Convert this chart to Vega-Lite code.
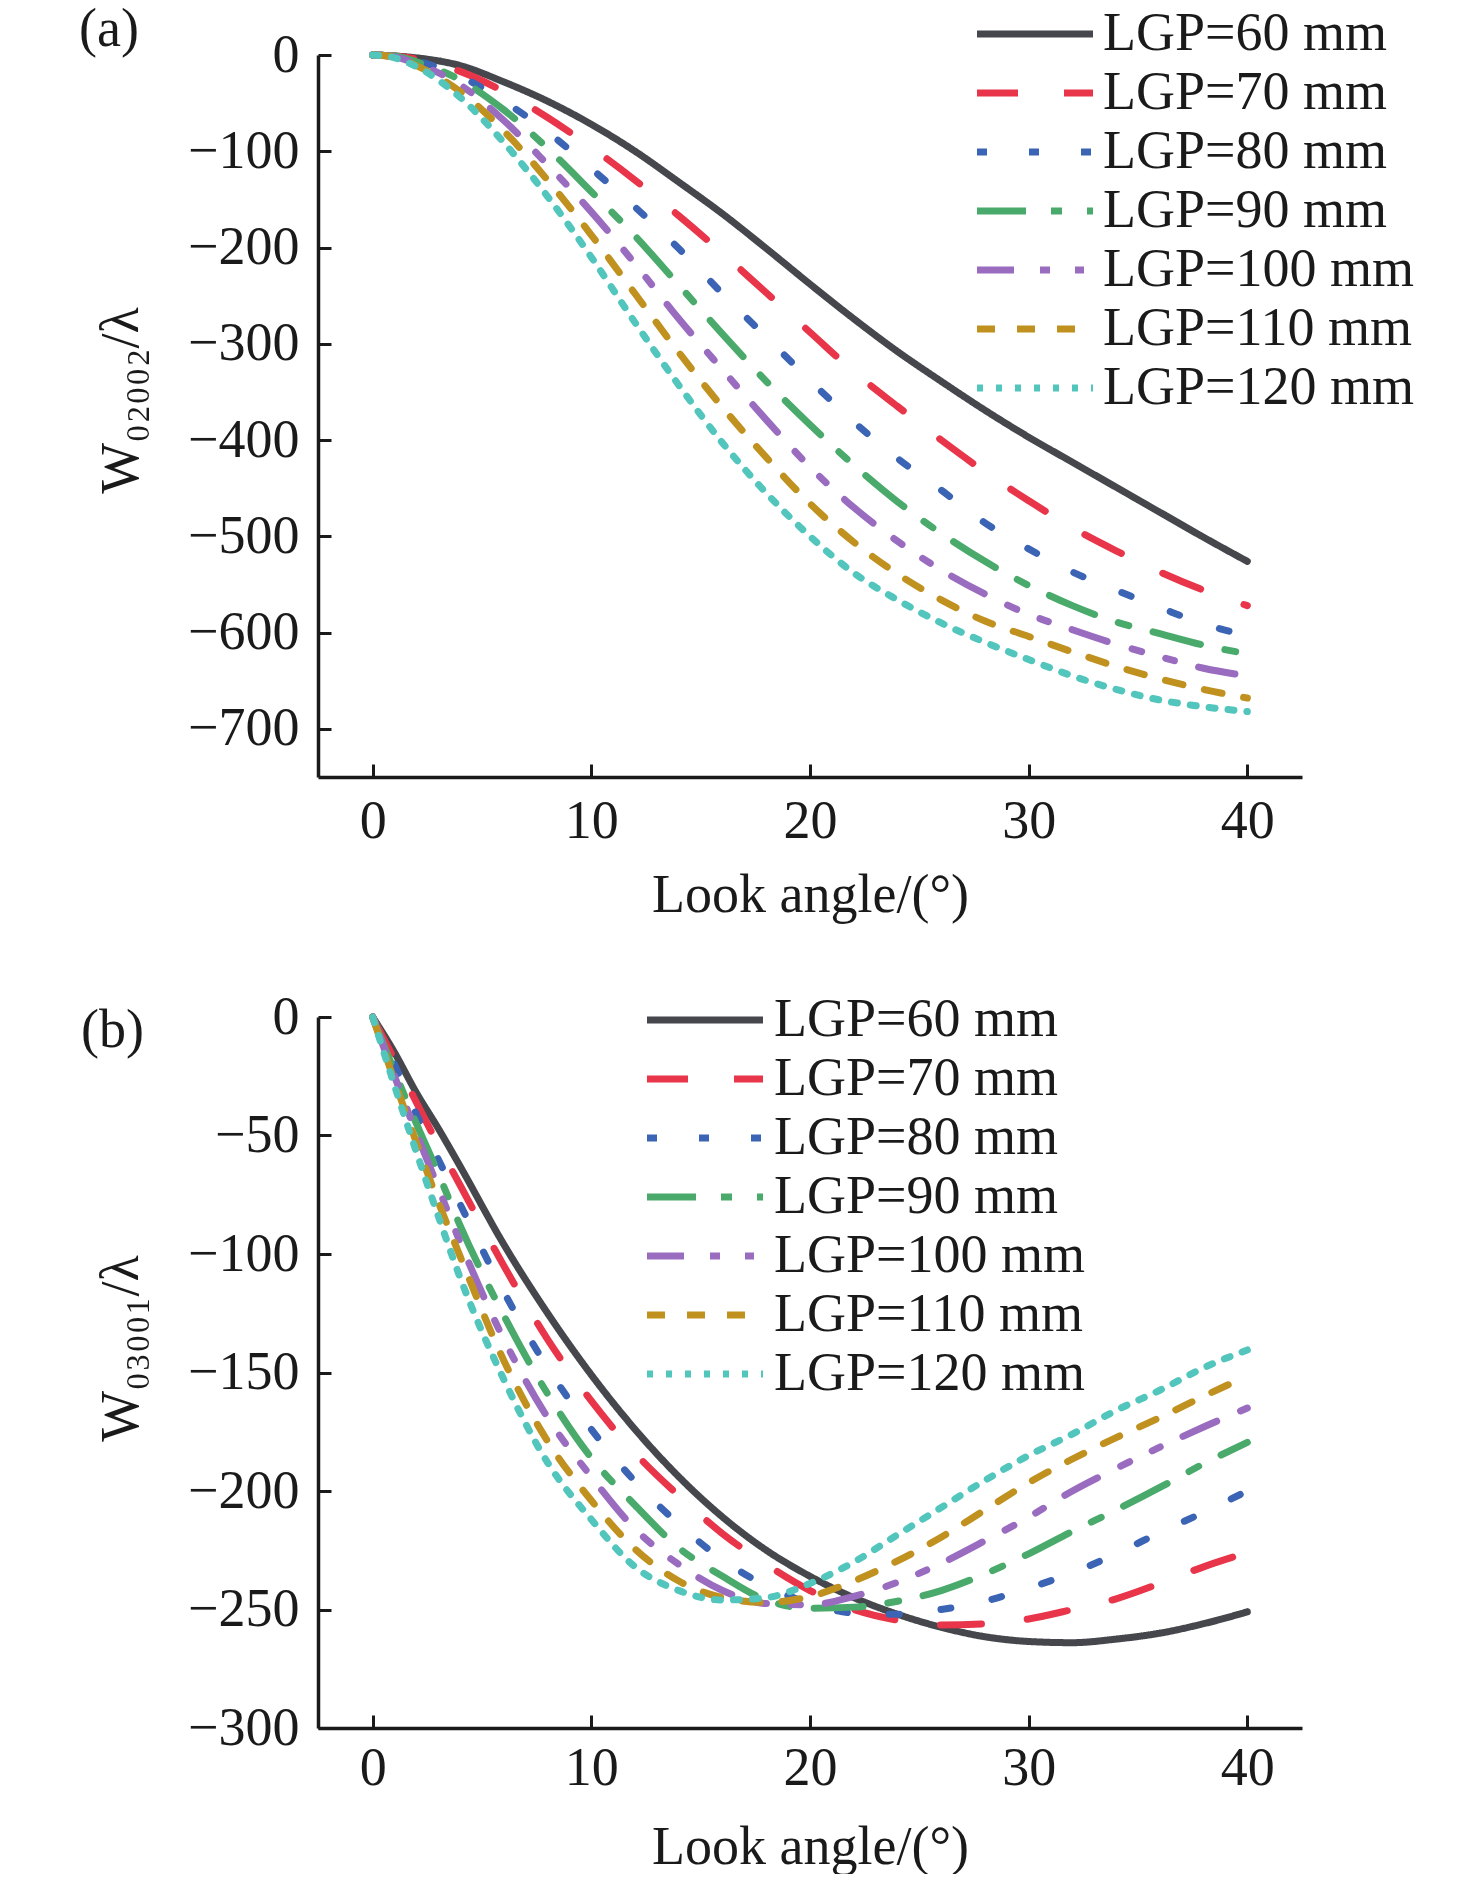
{
  "$schema": "https://vega.github.io/schema/vega-lite/v6.json",
  "background": "white",
  "padding": {"left": 79, "top": 3, "right": 0, "bottom": 0},
  "spacing": 240,
  "bounds": "flush",
  "config": {
    "view": {"stroke": null},
    "font": "Liberation Serif",
    "axis": {
      "labelFont": "Liberation Serif",
      "labelFontSize": 54,
      "labelColor": "#1a1a1a",
      "titleFont": "Liberation Serif",
      "titleFontSize": 54,
      "titleFontWeight": "normal",
      "titleColor": "#1a1a1a",
      "domainColor": "#1a1a1a",
      "domainWidth": 3.5,
      "tickColor": "#1a1a1a",
      "tickWidth": 3,
      "tickSize": -13,
      "grid": false,
      "labelOverlap": false,
      "labelFlush": false
    },
    "legend": {
      "title": null,
      "orient": "none",
      "labelFont": "Liberation Serif",
      "labelFontSize": 54,
      "labelColor": "#1a1a1a",
      "labelLimit": 0,
      "symbolType": "M-4,0H4",
      "symbolSize": 841,
      "symbolOffset": 31,
      "symbolStrokeWidth": 7,
      "rowPadding": 5,
      "padding": 0
    },
    "title": {"font": "Liberation Serif", "fontSize": 54, "fontWeight": "normal", "color": "#1a1a1a"}
  },
  "datasets": {
    "a": [
      {"L": "LGP=60 mm", "angle": 0, "W": 0}, {"L": "LGP=60 mm", "angle": 1, "W": -1}, {"L": "LGP=60 mm", "angle": 2, "W": -3}, {"L": "LGP=60 mm", "angle": 4, "W": -11}, {"L": "LGP=60 mm", "angle": 6, "W": -28}, {"L": "LGP=60 mm", "angle": 8, "W": -48}, {"L": "LGP=60 mm", "angle": 10, "W": -72}, {"L": "LGP=60 mm", "angle": 12, "W": -100}, {"L": "LGP=60 mm", "angle": 14, "W": -132}, {"L": "LGP=60 mm", "angle": 16, "W": -165}, {"L": "LGP=60 mm", "angle": 18, "W": -201}, {"L": "LGP=60 mm", "angle": 20, "W": -238}, {"L": "LGP=60 mm", "angle": 22, "W": -274}, {"L": "LGP=60 mm", "angle": 24, "W": -308}, {"L": "LGP=60 mm", "angle": 26, "W": -339}, {"L": "LGP=60 mm", "angle": 28, "W": -369}, {"L": "LGP=60 mm", "angle": 30, "W": -397}, {"L": "LGP=60 mm", "angle": 32, "W": -423}, {"L": "LGP=60 mm", "angle": 34, "W": -449}, {"L": "LGP=60 mm", "angle": 36, "W": -475}, {"L": "LGP=60 mm", "angle": 38, "W": -501}, {"L": "LGP=60 mm", "angle": 40, "W": -526},
      {"L": "LGP=70 mm", "angle": 0, "W": 0}, {"L": "LGP=70 mm", "angle": 1, "W": -1}, {"L": "LGP=70 mm", "angle": 2, "W": -4}, {"L": "LGP=70 mm", "angle": 4, "W": -17}, {"L": "LGP=70 mm", "angle": 6, "W": -38}, {"L": "LGP=70 mm", "angle": 8, "W": -65}, {"L": "LGP=70 mm", "angle": 10, "W": -96}, {"L": "LGP=70 mm", "angle": 12, "W": -130}, {"L": "LGP=70 mm", "angle": 14, "W": -167}, {"L": "LGP=70 mm", "angle": 16, "W": -206}, {"L": "LGP=70 mm", "angle": 18, "W": -247}, {"L": "LGP=70 mm", "angle": 20, "W": -288}, {"L": "LGP=70 mm", "angle": 22, "W": -329}, {"L": "LGP=70 mm", "angle": 24, "W": -365}, {"L": "LGP=70 mm", "angle": 26, "W": -400}, {"L": "LGP=70 mm", "angle": 28, "W": -433}, {"L": "LGP=70 mm", "angle": 30, "W": -463}, {"L": "LGP=70 mm", "angle": 32, "W": -491}, {"L": "LGP=70 mm", "angle": 34, "W": -515}, {"L": "LGP=70 mm", "angle": 36, "W": -537}, {"L": "LGP=70 mm", "angle": 38, "W": -556}, {"L": "LGP=70 mm", "angle": 40, "W": -572},
      {"L": "LGP=80 mm", "angle": 0, "W": 0}, {"L": "LGP=80 mm", "angle": 1, "W": -1}, {"L": "LGP=80 mm", "angle": 2, "W": -6}, {"L": "LGP=80 mm", "angle": 4, "W": -22}, {"L": "LGP=80 mm", "angle": 6, "W": -48}, {"L": "LGP=80 mm", "angle": 8, "W": -80}, {"L": "LGP=80 mm", "angle": 10, "W": -118}, {"L": "LGP=80 mm", "angle": 12, "W": -158}, {"L": "LGP=80 mm", "angle": 14, "W": -201}, {"L": "LGP=80 mm", "angle": 16, "W": -248}, {"L": "LGP=80 mm", "angle": 18, "W": -293}, {"L": "LGP=80 mm", "angle": 20, "W": -338}, {"L": "LGP=80 mm", "angle": 22, "W": -381}, {"L": "LGP=80 mm", "angle": 24, "W": -419}, {"L": "LGP=80 mm", "angle": 26, "W": -452}, {"L": "LGP=80 mm", "angle": 28, "W": -486}, {"L": "LGP=80 mm", "angle": 30, "W": -513}, {"L": "LGP=80 mm", "angle": 32, "W": -537}, {"L": "LGP=80 mm", "angle": 34, "W": -556}, {"L": "LGP=80 mm", "angle": 36, "W": -574}, {"L": "LGP=80 mm", "angle": 38, "W": -591}, {"L": "LGP=80 mm", "angle": 40, "W": -603},
      {"L": "LGP=90 mm", "angle": 0, "W": 0}, {"L": "LGP=90 mm", "angle": 1, "W": -1}, {"L": "LGP=90 mm", "angle": 2, "W": -7}, {"L": "LGP=90 mm", "angle": 4, "W": -26}, {"L": "LGP=90 mm", "angle": 6, "W": -57}, {"L": "LGP=90 mm", "angle": 8, "W": -97}, {"L": "LGP=90 mm", "angle": 10, "W": -142}, {"L": "LGP=90 mm", "angle": 12, "W": -188}, {"L": "LGP=90 mm", "angle": 14, "W": -239}, {"L": "LGP=90 mm", "angle": 16, "W": -290}, {"L": "LGP=90 mm", "angle": 18, "W": -339}, {"L": "LGP=90 mm", "angle": 20, "W": -384}, {"L": "LGP=90 mm", "angle": 22, "W": -426}, {"L": "LGP=90 mm", "angle": 24, "W": -464}, {"L": "LGP=90 mm", "angle": 26, "W": -497}, {"L": "LGP=90 mm", "angle": 28, "W": -526}, {"L": "LGP=90 mm", "angle": 30, "W": -551}, {"L": "LGP=90 mm", "angle": 32, "W": -572}, {"L": "LGP=90 mm", "angle": 34, "W": -589}, {"L": "LGP=90 mm", "angle": 36, "W": -601}, {"L": "LGP=90 mm", "angle": 38, "W": -613}, {"L": "LGP=90 mm", "angle": 40, "W": -622},
      {"L": "LGP=100 mm", "angle": 0, "W": 0}, {"L": "LGP=100 mm", "angle": 1, "W": -2}, {"L": "LGP=100 mm", "angle": 2, "W": -9}, {"L": "LGP=100 mm", "angle": 4, "W": -31}, {"L": "LGP=100 mm", "angle": 6, "W": -68}, {"L": "LGP=100 mm", "angle": 8, "W": -114}, {"L": "LGP=100 mm", "angle": 10, "W": -163}, {"L": "LGP=100 mm", "angle": 12, "W": -217}, {"L": "LGP=100 mm", "angle": 14, "W": -274}, {"L": "LGP=100 mm", "angle": 16, "W": -327}, {"L": "LGP=100 mm", "angle": 18, "W": -379}, {"L": "LGP=100 mm", "angle": 20, "W": -428}, {"L": "LGP=100 mm", "angle": 22, "W": -470}, {"L": "LGP=100 mm", "angle": 24, "W": -505}, {"L": "LGP=100 mm", "angle": 26, "W": -535}, {"L": "LGP=100 mm", "angle": 28, "W": -560}, {"L": "LGP=100 mm", "angle": 30, "W": -581}, {"L": "LGP=100 mm", "angle": 32, "W": -597}, {"L": "LGP=100 mm", "angle": 34, "W": -612}, {"L": "LGP=100 mm", "angle": 36, "W": -625}, {"L": "LGP=100 mm", "angle": 38, "W": -637}, {"L": "LGP=100 mm", "angle": 40, "W": -645},
      {"L": "LGP=110 mm", "angle": 0, "W": 0}, {"L": "LGP=110 mm", "angle": 1, "W": -2}, {"L": "LGP=110 mm", "angle": 2, "W": -11}, {"L": "LGP=110 mm", "angle": 4, "W": -38}, {"L": "LGP=110 mm", "angle": 6, "W": -79}, {"L": "LGP=110 mm", "angle": 8, "W": -130}, {"L": "LGP=110 mm", "angle": 10, "W": -187}, {"L": "LGP=110 mm", "angle": 12, "W": -248}, {"L": "LGP=110 mm", "angle": 14, "W": -309}, {"L": "LGP=110 mm", "angle": 16, "W": -366}, {"L": "LGP=110 mm", "angle": 18, "W": -418}, {"L": "LGP=110 mm", "angle": 20, "W": -466}, {"L": "LGP=110 mm", "angle": 22, "W": -506}, {"L": "LGP=110 mm", "angle": 24, "W": -539}, {"L": "LGP=110 mm", "angle": 26, "W": -566}, {"L": "LGP=110 mm", "angle": 28, "W": -588}, {"L": "LGP=110 mm", "angle": 30, "W": -604}, {"L": "LGP=110 mm", "angle": 32, "W": -620}, {"L": "LGP=110 mm", "angle": 34, "W": -635}, {"L": "LGP=110 mm", "angle": 36, "W": -648}, {"L": "LGP=110 mm", "angle": 38, "W": -659}, {"L": "LGP=110 mm", "angle": 40, "W": -668},
      {"L": "LGP=120 mm", "angle": 0, "W": 0}, {"L": "LGP=120 mm", "angle": 1, "W": -3}, {"L": "LGP=120 mm", "angle": 2, "W": -12}, {"L": "LGP=120 mm", "angle": 4, "W": -44}, {"L": "LGP=120 mm", "angle": 6, "W": -91}, {"L": "LGP=120 mm", "angle": 8, "W": -147}, {"L": "LGP=120 mm", "angle": 10, "W": -210}, {"L": "LGP=120 mm", "angle": 12, "W": -278}, {"L": "LGP=120 mm", "angle": 14, "W": -343}, {"L": "LGP=120 mm", "angle": 16, "W": -403}, {"L": "LGP=120 mm", "angle": 18, "W": -455}, {"L": "LGP=120 mm", "angle": 20, "W": -500}, {"L": "LGP=120 mm", "angle": 22, "W": -538}, {"L": "LGP=120 mm", "angle": 24, "W": -566}, {"L": "LGP=120 mm", "angle": 26, "W": -590}, {"L": "LGP=120 mm", "angle": 28, "W": -610}, {"L": "LGP=120 mm", "angle": 30, "W": -628}, {"L": "LGP=120 mm", "angle": 32, "W": -645}, {"L": "LGP=120 mm", "angle": 34, "W": -659}, {"L": "LGP=120 mm", "angle": 36, "W": -670}, {"L": "LGP=120 mm", "angle": 38, "W": -677}, {"L": "LGP=120 mm", "angle": 40, "W": -682}
    ],
    "b": [
      {"L": "LGP=60 mm", "angle": 0, "W": 0}, {"L": "LGP=60 mm", "angle": 1, "W": -15}, {"L": "LGP=60 mm", "angle": 2, "W": -32}, {"L": "LGP=60 mm", "angle": 3, "W": -47}, {"L": "LGP=60 mm", "angle": 4, "W": -63}, {"L": "LGP=60 mm", "angle": 6, "W": -96}, {"L": "LGP=60 mm", "angle": 8, "W": -125}, {"L": "LGP=60 mm", "angle": 10, "W": -151}, {"L": "LGP=60 mm", "angle": 12, "W": -174}, {"L": "LGP=60 mm", "angle": 14, "W": -194}, {"L": "LGP=60 mm", "angle": 16, "W": -211}, {"L": "LGP=60 mm", "angle": 18, "W": -225}, {"L": "LGP=60 mm", "angle": 20, "W": -236}, {"L": "LGP=60 mm", "angle": 22, "W": -245}, {"L": "LGP=60 mm", "angle": 24, "W": -252}, {"L": "LGP=60 mm", "angle": 26, "W": -257.5}, {"L": "LGP=60 mm", "angle": 28, "W": -261.5}, {"L": "LGP=60 mm", "angle": 30, "W": -263.5}, {"L": "LGP=60 mm", "angle": 32, "W": -264}, {"L": "LGP=60 mm", "angle": 34, "W": -262.5}, {"L": "LGP=60 mm", "angle": 36, "W": -260}, {"L": "LGP=60 mm", "angle": 38, "W": -256}, {"L": "LGP=60 mm", "angle": 40, "W": -251},
      {"L": "LGP=70 mm", "angle": 0, "W": 0}, {"L": "LGP=70 mm", "angle": 1, "W": -18}, {"L": "LGP=70 mm", "angle": 2, "W": -36}, {"L": "LGP=70 mm", "angle": 3, "W": -54}, {"L": "LGP=70 mm", "angle": 4, "W": -71}, {"L": "LGP=70 mm", "angle": 6, "W": -105}, {"L": "LGP=70 mm", "angle": 8, "W": -136}, {"L": "LGP=70 mm", "angle": 10, "W": -162}, {"L": "LGP=70 mm", "angle": 12, "W": -184}, {"L": "LGP=70 mm", "angle": 14, "W": -202}, {"L": "LGP=70 mm", "angle": 16, "W": -218}, {"L": "LGP=70 mm", "angle": 18, "W": -231}, {"L": "LGP=70 mm", "angle": 20, "W": -242}, {"L": "LGP=70 mm", "angle": 22, "W": -250}, {"L": "LGP=70 mm", "angle": 24, "W": -254.5}, {"L": "LGP=70 mm", "angle": 26, "W": -256.5}, {"L": "LGP=70 mm", "angle": 28, "W": -256}, {"L": "LGP=70 mm", "angle": 30, "W": -254}, {"L": "LGP=70 mm", "angle": 32, "W": -250}, {"L": "LGP=70 mm", "angle": 34, "W": -245.5}, {"L": "LGP=70 mm", "angle": 36, "W": -239}, {"L": "LGP=70 mm", "angle": 38, "W": -232}, {"L": "LGP=70 mm", "angle": 40, "W": -226},
      {"L": "LGP=80 mm", "angle": 0, "W": 0}, {"L": "LGP=80 mm", "angle": 1, "W": -20}, {"L": "LGP=80 mm", "angle": 2, "W": -41}, {"L": "LGP=80 mm", "angle": 3, "W": -60}, {"L": "LGP=80 mm", "angle": 4, "W": -79}, {"L": "LGP=80 mm", "angle": 6, "W": -116}, {"L": "LGP=80 mm", "angle": 8, "W": -148}, {"L": "LGP=80 mm", "angle": 10, "W": -174}, {"L": "LGP=80 mm", "angle": 12, "W": -196}, {"L": "LGP=80 mm", "angle": 14, "W": -214}, {"L": "LGP=80 mm", "angle": 16, "W": -229}, {"L": "LGP=80 mm", "angle": 18, "W": -240}, {"L": "LGP=80 mm", "angle": 20, "W": -247.5}, {"L": "LGP=80 mm", "angle": 22, "W": -251.5}, {"L": "LGP=80 mm", "angle": 24, "W": -252}, {"L": "LGP=80 mm", "angle": 26, "W": -250}, {"L": "LGP=80 mm", "angle": 28, "W": -246.5}, {"L": "LGP=80 mm", "angle": 30, "W": -241}, {"L": "LGP=80 mm", "angle": 32, "W": -234.5}, {"L": "LGP=80 mm", "angle": 34, "W": -226.5}, {"L": "LGP=80 mm", "angle": 36, "W": -217.5}, {"L": "LGP=80 mm", "angle": 38, "W": -209}, {"L": "LGP=80 mm", "angle": 40, "W": -200},
      {"L": "LGP=90 mm", "angle": 0, "W": 0}, {"L": "LGP=90 mm", "angle": 1, "W": -23}, {"L": "LGP=90 mm", "angle": 2, "W": -45}, {"L": "LGP=90 mm", "angle": 3, "W": -66}, {"L": "LGP=90 mm", "angle": 4, "W": -88}, {"L": "LGP=90 mm", "angle": 6, "W": -126}, {"L": "LGP=90 mm", "angle": 8, "W": -159}, {"L": "LGP=90 mm", "angle": 10, "W": -186}, {"L": "LGP=90 mm", "angle": 12, "W": -206}, {"L": "LGP=90 mm", "angle": 14, "W": -224}, {"L": "LGP=90 mm", "angle": 16, "W": -236}, {"L": "LGP=90 mm", "angle": 18, "W": -246}, {"L": "LGP=90 mm", "angle": 20, "W": -249.5}, {"L": "LGP=90 mm", "angle": 22, "W": -249}, {"L": "LGP=90 mm", "angle": 24, "W": -246.5}, {"L": "LGP=90 mm", "angle": 26, "W": -242}, {"L": "LGP=90 mm", "angle": 28, "W": -235}, {"L": "LGP=90 mm", "angle": 30, "W": -226.5}, {"L": "LGP=90 mm", "angle": 32, "W": -217}, {"L": "LGP=90 mm", "angle": 34, "W": -208}, {"L": "LGP=90 mm", "angle": 36, "W": -198.5}, {"L": "LGP=90 mm", "angle": 38, "W": -188.5}, {"L": "LGP=90 mm", "angle": 40, "W": -179.5},
      {"L": "LGP=100 mm", "angle": 0, "W": 0}, {"L": "LGP=100 mm", "angle": 1, "W": -25}, {"L": "LGP=100 mm", "angle": 2, "W": -49}, {"L": "LGP=100 mm", "angle": 3, "W": -72}, {"L": "LGP=100 mm", "angle": 4, "W": -95}, {"L": "LGP=100 mm", "angle": 6, "W": -136}, {"L": "LGP=100 mm", "angle": 8, "W": -169}, {"L": "LGP=100 mm", "angle": 10, "W": -194}, {"L": "LGP=100 mm", "angle": 12, "W": -216}, {"L": "LGP=100 mm", "angle": 14, "W": -231}, {"L": "LGP=100 mm", "angle": 16, "W": -242}, {"L": "LGP=100 mm", "angle": 18, "W": -247.5}, {"L": "LGP=100 mm", "angle": 20, "W": -248}, {"L": "LGP=100 mm", "angle": 22, "W": -244.5}, {"L": "LGP=100 mm", "angle": 24, "W": -238.5}, {"L": "LGP=100 mm", "angle": 26, "W": -230.5}, {"L": "LGP=100 mm", "angle": 28, "W": -221}, {"L": "LGP=100 mm", "angle": 30, "W": -211}, {"L": "LGP=100 mm", "angle": 32, "W": -200}, {"L": "LGP=100 mm", "angle": 34, "W": -190.5}, {"L": "LGP=100 mm", "angle": 36, "W": -181.5}, {"L": "LGP=100 mm", "angle": 38, "W": -173}, {"L": "LGP=100 mm", "angle": 40, "W": -165},
      {"L": "LGP=110 mm", "angle": 0, "W": 0}, {"L": "LGP=110 mm", "angle": 1, "W": -27}, {"L": "LGP=110 mm", "angle": 2, "W": -53}, {"L": "LGP=110 mm", "angle": 3, "W": -78}, {"L": "LGP=110 mm", "angle": 4, "W": -101}, {"L": "LGP=110 mm", "angle": 6, "W": -145}, {"L": "LGP=110 mm", "angle": 8, "W": -179}, {"L": "LGP=110 mm", "angle": 10, "W": -204}, {"L": "LGP=110 mm", "angle": 12, "W": -224.5}, {"L": "LGP=110 mm", "angle": 14, "W": -238}, {"L": "LGP=110 mm", "angle": 16, "W": -245}, {"L": "LGP=110 mm", "angle": 18, "W": -247}, {"L": "LGP=110 mm", "angle": 20, "W": -244.5}, {"L": "LGP=110 mm", "angle": 22, "W": -238}, {"L": "LGP=110 mm", "angle": 24, "W": -229.5}, {"L": "LGP=110 mm", "angle": 26, "W": -219.5}, {"L": "LGP=110 mm", "angle": 28, "W": -208}, {"L": "LGP=110 mm", "angle": 30, "W": -196.5}, {"L": "LGP=110 mm", "angle": 32, "W": -186.5}, {"L": "LGP=110 mm", "angle": 34, "W": -177.5}, {"L": "LGP=110 mm", "angle": 36, "W": -169}, {"L": "LGP=110 mm", "angle": 38, "W": -160}, {"L": "LGP=110 mm", "angle": 40, "W": -151.5},
      {"L": "LGP=120 mm", "angle": 0, "W": 0}, {"L": "LGP=120 mm", "angle": 1, "W": -29}, {"L": "LGP=120 mm", "angle": 2, "W": -57}, {"L": "LGP=120 mm", "angle": 3, "W": -84}, {"L": "LGP=120 mm", "angle": 4, "W": -110}, {"L": "LGP=120 mm", "angle": 6, "W": -153}, {"L": "LGP=120 mm", "angle": 8, "W": -188}, {"L": "LGP=120 mm", "angle": 10, "W": -212}, {"L": "LGP=120 mm", "angle": 12, "W": -232}, {"L": "LGP=120 mm", "angle": 14, "W": -242}, {"L": "LGP=120 mm", "angle": 16, "W": -246}, {"L": "LGP=120 mm", "angle": 18, "W": -245}, {"L": "LGP=120 mm", "angle": 20, "W": -239}, {"L": "LGP=120 mm", "angle": 22, "W": -230}, {"L": "LGP=120 mm", "angle": 24, "W": -218.5}, {"L": "LGP=120 mm", "angle": 26, "W": -207}, {"L": "LGP=120 mm", "angle": 28, "W": -195.5}, {"L": "LGP=120 mm", "angle": 30, "W": -185}, {"L": "LGP=120 mm", "angle": 32, "W": -176}, {"L": "LGP=120 mm", "angle": 34, "W": -166}, {"L": "LGP=120 mm", "angle": 36, "W": -157.5}, {"L": "LGP=120 mm", "angle": 38, "W": -148}, {"L": "LGP=120 mm", "angle": 40, "W": -140.5}
    ]
  },
  "resolve": {"scale": {"x": "independent", "y": "independent", "color": "independent", "strokeDash": "independent"}},
  "vconcat": [
    {
      "width": 984,
      "height": 722,
      "title": {"text": "(a)", "anchor": "start", "frame": "group", "orient": "top", "offset": -77, "baseline": "middle", "dx": -239},
      "data": {"name": "a"},
      "mark": {"type": "line", "strokeWidth": 7, "strokeCap": "round", "interpolate": "monotone"},
      "encoding": {
        "x": {
          "field": "angle", "type": "quantitative",
          "scale": {"domain": [-2.5, 42.5], "nice": false, "zero": false},
          "axis": {"values": [0, 10, 20, 30, 40], "title": "Look angle/(°)", "labelPadding": 30, "titleX": 492, "titleY": 134, "titleBaseline": "alphabetic", "titleAlign": "center"}
        },
        "y": {
          "field": "W", "type": "quantitative",
          "scale": {"domain": [-750, 0], "nice": false, "zero": false},
          "axis": {"values": [0, -100, -200, -300, -400, -500, -600, -700], "title": "W₀₂₀₀₂/λ", "labelPadding": 32, "titleX": -197, "titleY": 345, "titleBaseline": "middle", "titleAlign": "center", "titleAngle": 270}
        },
        "color": {
          "field": "L", "type": "nominal",
          "scale": {"domain": ["LGP=60 mm", "LGP=70 mm", "LGP=80 mm", "LGP=90 mm", "LGP=100 mm", "LGP=110 mm", "LGP=120 mm"], "range": ["#45474c", "#e8354a", "#3b64b5", "#49aa6b", "#9a6cc0", "#c0911f", "#52c5bc"]},
          "legend": {"legendX": 659, "legendY": -48, "labelOffset": 41}
        },
        "strokeDash": {
          "field": "L", "type": "nominal",
          "scale": {"domain": ["LGP=60 mm", "LGP=70 mm", "LGP=80 mm", "LGP=90 mm", "LGP=100 mm", "LGP=110 mm", "LGP=120 mm"], "range": [[1, 0], [41, 46], [10, 42], [49, 25, 11, 25], [37, 26, 10, 25, 9, 25], [18, 22], [6, 13]]},
          "legend": {"legendX": 659, "legendY": -48, "labelOffset": 41}
        }
      }
    },
    {
      "width": 984,
      "height": 711,
      "title": {"text": "(b)", "anchor": "start", "frame": "group", "orient": "top", "offset": -95, "baseline": "middle", "dx": -237},
      "data": {"name": "b"},
      "mark": {"type": "line", "strokeWidth": 7, "strokeCap": "round", "interpolate": "monotone"},
      "encoding": {
        "x": {
          "field": "angle", "type": "quantitative",
          "scale": {"domain": [-2.5, 42.5], "nice": false, "zero": false},
          "axis": {"values": [0, 10, 20, 30, 40], "title": "Look angle/(°)", "labelPadding": 26, "titleX": 492, "titleY": 135, "titleBaseline": "alphabetic", "titleAlign": "center"}
        },
        "y": {
          "field": "W", "type": "quantitative",
          "scale": {"domain": [-300, 0], "nice": false, "zero": false},
          "axis": {"values": [0, -50, -100, -150, -200, -250, -300], "title": "W₀₃₀₀₁/λ", "labelPadding": 32, "titleX": -197, "titleY": 331, "titleBaseline": "middle", "titleAlign": "center", "titleAngle": 270}
        },
        "color": {
          "field": "L", "type": "nominal",
          "scale": {"domain": ["LGP=60 mm", "LGP=70 mm", "LGP=80 mm", "LGP=90 mm", "LGP=100 mm", "LGP=110 mm", "LGP=120 mm"], "range": ["#45474c", "#e8354a", "#3b64b5", "#49aa6b", "#9a6cc0", "#c0911f", "#52c5bc"]},
          "legend": {"legendX": 329, "legendY": -24, "labelOffset": 42}
        },
        "strokeDash": {
          "field": "L", "type": "nominal",
          "scale": {"domain": ["LGP=60 mm", "LGP=70 mm", "LGP=80 mm", "LGP=90 mm", "LGP=100 mm", "LGP=110 mm", "LGP=120 mm"], "range": [[1, 0], [41, 46], [10, 42], [49, 25, 11, 25], [37, 26, 10, 25, 9, 25], [18, 22], [6, 13]]},
          "legend": {"legendX": 329, "legendY": -24, "labelOffset": 42}
        }
      }
    }
  ]
}
